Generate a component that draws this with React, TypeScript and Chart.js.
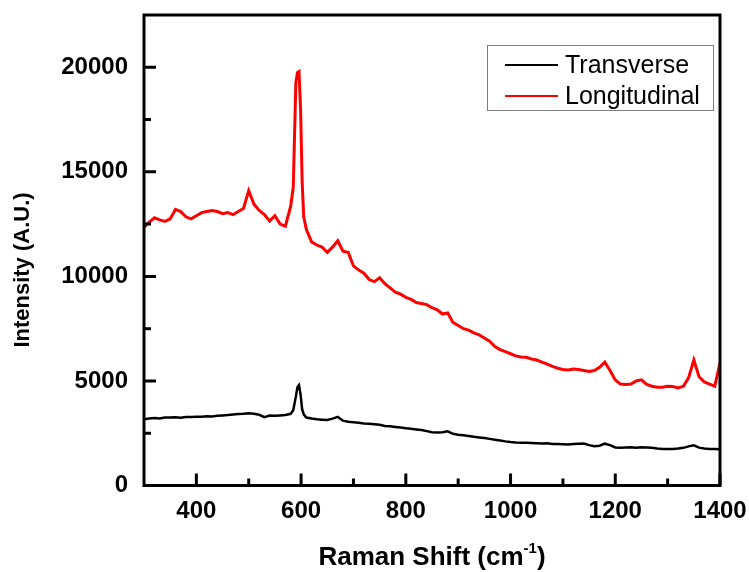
import React, { useEffect, useRef } from "react";
import { Chart, registerables } from "chart.js";

Chart.register(...registerables);

// Raman shift (cm-1)
const ramanShift = [
  300, 310, 320, 330, 340, 350, 360, 370, 380, 390,
  400, 410, 420, 430, 440, 450, 460, 470, 480, 490,
  500, 510, 520, 530, 540, 550, 560, 570, 580,
  585, 590, 593, 596, 599, 602, 605,
  610, 620, 630, 640, 650, 660, 670, 680, 690,
  700, 710, 720, 730, 740, 750, 760, 770, 780, 790,
  800, 810, 820, 830, 840, 850, 860, 870, 880, 890,
  900, 910, 920, 930, 940, 950, 960, 970, 980, 990,
  1000, 1010, 1020, 1030, 1040, 1050, 1060, 1070, 1080, 1090,
  1100, 1110, 1120, 1130, 1140, 1150, 1160, 1170, 1180, 1190,
  1200, 1210, 1220, 1230, 1240, 1250, 1260, 1270, 1280, 1290,
  1300, 1310, 1320, 1330, 1340, 1350, 1360, 1370, 1380, 1390,
  1400,
];

const transverse = [
  3170, 3200, 3230, 3210, 3250, 3250, 3260, 3240, 3280, 3270,
  3290, 3290, 3310, 3300, 3330, 3350, 3370, 3400, 3420, 3430,
  3450, 3430, 3380, 3270, 3350, 3330, 3350, 3370, 3430,
  3600, 4250, 4700, 4800, 4350, 3650, 3400,
  3250, 3200, 3170, 3150, 3130, 3200, 3280, 3100, 3050,
  3030, 3000, 2970, 2950, 2930, 2900, 2850, 2830, 2800, 2770,
  2740, 2710, 2680, 2650, 2600, 2550, 2540, 2550, 2590, 2470,
  2430, 2400, 2370, 2330, 2300, 2270, 2230, 2190, 2150, 2110,
  2080, 2060, 2050, 2040, 2030, 2020, 2010, 2020, 1990, 1980,
  1970, 1960, 1980, 2000, 2010, 1930, 1880, 1900, 2000, 1930,
  1820, 1810, 1820, 1830, 1810, 1830, 1820, 1800, 1770, 1750,
  1740, 1750, 1770, 1800, 1870, 1920, 1810, 1770, 1750, 1740,
  1730,
];

const longitudinal = [
  12350, 12600, 12800, 12700, 12630, 12750, 13200, 13100, 12850, 12750,
  12900, 13050, 13100, 13150, 13100, 13000, 13050, 12950, 13100, 13250,
  14100, 13450, 13150, 12950, 12650, 12900, 12500, 12400, 13350,
  14250, 19250, 19750, 19800, 18050, 14550, 12850,
  12250, 11650, 11500, 11400, 11150, 11400, 11700, 11200, 11150,
  10500, 10300, 10150, 9850, 9750, 9930, 9650, 9450, 9250, 9150,
  9000, 8900, 8750, 8700, 8650, 8500, 8400, 8200, 8250, 7800,
  7650, 7500, 7430, 7300, 7200, 7050, 6900, 6650, 6500, 6400,
  6300, 6200, 6150, 6130, 6050, 6000, 5900, 5800, 5700, 5610,
  5550, 5520, 5570, 5550, 5500, 5450, 5500, 5650, 5900, 5500,
  5050, 4850, 4830, 4850, 5000, 5050, 4830, 4750, 4700, 4700,
  4750, 4730, 4670, 4750, 5150, 6000, 5200, 4950, 4850, 4750,
  5850,
];

const seriesLabels = ["Transverse", "Longitudinal"];
const seriesColors = ["#000000", "#ff0000"];

const xMajorTicks = [400, 600, 800, 1000, 1200, 1400];
const xMinorTicks = [500, 700, 900, 1100, 1300];
const yMajorTicks = [0, 5000, 10000, 15000, 20000];
const yMinorTicks = [2500, 7500, 12500, 17500];

const FONT = '"Liberation Sans", Arial, Helvetica, sans-serif';

const framePlugin = {
  id: "frameTicksTitlesLegend",
  afterDraw(chart: any) {
    const { ctx, chartArea: a, scales } = chart;
    const xs = scales.x;
    const ys = scales.y;
    ctx.save();
    ctx.strokeStyle = "#000";
    ctx.lineWidth = 3;
    ctx.lineCap = "butt";
    ctx.beginPath();
    xMajorTicks.forEach((v) => {
      const p = xs.getPixelForValue(v);
      ctx.moveTo(p, a.bottom);
      ctx.lineTo(p, a.bottom - 12);
    });
    xMinorTicks.forEach((v) => {
      const p = xs.getPixelForValue(v);
      ctx.moveTo(p, a.bottom);
      ctx.lineTo(p, a.bottom - 7);
    });
    yMajorTicks.forEach((v) => {
      const p = ys.getPixelForValue(v);
      ctx.moveTo(a.left, p);
      ctx.lineTo(a.left + 12, p);
    });
    yMinorTicks.forEach((v) => {
      const p = ys.getPixelForValue(v);
      ctx.moveTo(a.left, p);
      ctx.lineTo(a.left + 7, p);
    });
    ctx.stroke();
    ctx.strokeRect(a.left, a.top, a.right - a.left, a.bottom - a.top);

    // Y axis title
    ctx.fillStyle = "#000";
    ctx.save();
    ctx.font = `bold 22px ${FONT}`;
    ctx.textAlign = "center";
    ctx.textBaseline = "middle";
    ctx.translate(23, 270);
    ctx.rotate(-Math.PI / 2);
    ctx.fillText("Intensity (A.U.)", 0, 0);
    ctx.restore();

    // X axis title with superscript
    const mainFont = `bold 26px ${FONT}`;
    const supFont = `bold 15px ${FONT}`;
    const t1 = "Raman Shift (cm";
    const t2 = "-1";
    const t3 = ")";
    ctx.font = mainFont;
    const w1 = ctx.measureText(t1).width;
    const w3 = ctx.measureText(t3).width;
    ctx.font = supFont;
    const w2 = ctx.measureText(t2).width;
    const total = w1 + w2 + w3;
    const x0 = (a.left + a.right) / 2 - total / 2;
    const base = 565;
    ctx.textAlign = "left";
    ctx.textBaseline = "alphabetic";
    ctx.font = mainFont;
    ctx.fillText(t1, x0, base);
    ctx.font = supFont;
    ctx.fillText(t2, x0 + w1, base - 12);
    ctx.font = mainFont;
    ctx.fillText(t3, x0 + w1 + w2, base);

    // Legend
    const bx = a.right - 233;
    const by = a.top + 30;
    ctx.strokeStyle = "#7f7f7f";
    ctx.lineWidth = 1;
    ctx.strokeRect(Math.round(bx) + 0.5, Math.round(by) + 0.5, 226, 65);
    ctx.font = `25px ${FONT}`;
    ctx.textBaseline = "middle";
    chart.data.datasets.forEach((ds: any, i: number) => {
      const cy = by + 20 + i * 31;
      ctx.strokeStyle = ds.borderColor;
      ctx.lineWidth = 2;
      ctx.beginPath();
      ctx.moveTo(bx + 18, cy);
      ctx.lineTo(bx + 71, cy);
      ctx.stroke();
      ctx.fillStyle = "#000";
      ctx.fillText(ds.label, bx + 78, cy + 1);
    });
    ctx.restore();
  },
};

const zeroPadding = (s: any) => {
  s.paddingTop = 0;
  s.paddingBottom = 0;
  s.paddingLeft = 0;
  s.paddingRight = 0;
};

export default function App() {
  const ref = useRef<HTMLCanvasElement | null>(null);
  useEffect(() => {
    if (!ref.current) return;
    const chart = new Chart(ref.current, {
      type: "line",
      data: {
        datasets: [
          {
            label: seriesLabels[0],
            data: ramanShift.map((x, i) => ({ x, y: transverse[i] })),
            borderColor: seriesColors[0],
            borderWidth: 2.5,
            pointRadius: 0,
            tension: 0,
            fill: false,
          },
          {
            label: seriesLabels[1],
            data: ramanShift.map((x, i) => ({ x, y: longitudinal[i] })),
            borderColor: seriesColors[1],
            borderWidth: 3,
            pointRadius: 0,
            tension: 0,
            fill: false,
          },
        ],
      },
      options: {
        animation: false,
        responsive: true,
        maintainAspectRatio: false,
        layout: { padding: { top: 15, right: 29, left: 0, bottom: 0 } },
        plugins: {
          legend: { display: false },
          tooltip: { enabled: false },
        },
        scales: {
          x: {
            type: "linear",
            min: 300,
            max: 1400,
            grid: { display: false },
            border: { display: false },
            afterBuildTicks: (s: any) => {
              s.ticks = xMajorTicks.map((v) => ({ value: v }));
            },
            afterFit: (s: any) => {
              s.height = 86.5;
              zeroPadding(s);
            },
            ticks: {
              color: "#000",
              padding: 3,
              maxRotation: 0,
              autoSkip: false,
              callback: (v: any) => String(v),
              font: { family: FONT, size: 24, weight: "bold" },
            },
          },
          y: {
            type: "linear",
            min: 0,
            max: 22500,
            grid: { display: false },
            border: { display: false },
            afterBuildTicks: (s: any) => {
              s.ticks = yMajorTicks.map((v) => ({ value: v }));
            },
            afterFit: (s: any) => {
              s.width = 144;
              zeroPadding(s);
            },
            ticks: {
              color: "#000",
              padding: 8,
              autoSkip: false,
              callback: (v: any) => String(v),
              font: { family: FONT, size: 24, weight: "bold" },
            },
          },
        },
      },
      plugins: [framePlugin],
    } as any);
    return () => chart.destroy();
  }, []);
  return (
    <div style={{ position: "absolute", left: 0, top: 0, width: 749, height: 572, background: "#fff" }}>
      <canvas ref={ref} />
    </div>
  );
}
